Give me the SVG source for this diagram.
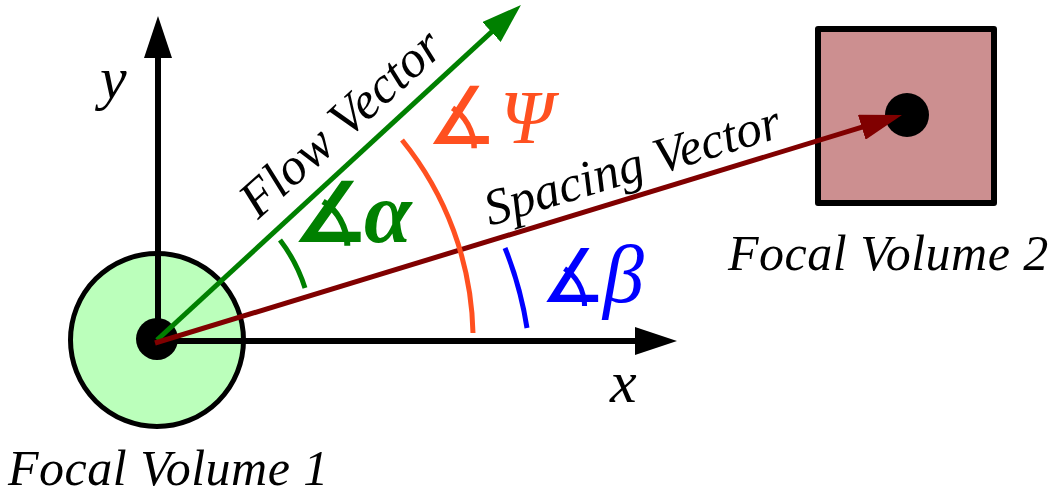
<svg xmlns="http://www.w3.org/2000/svg" width="1059" height="495" viewBox="0 0 1059 495">
<style>
.lbl{font-family:"Liberation Serif","DejaVu Serif",serif;font-style:italic;fill:#000}
.big{font-size:50px}
.axl{font-size:60px}
.ang{font-family:"DejaVu Serif","DejaVu Sans",serif;font-style:normal}
.greek{font-family:"Liberation Serif","DejaVu Serif",serif;font-style:italic}
.axis{stroke:#000;stroke-width:6;fill:none}
.flow{stroke:#008000;stroke-width:5;fill:none}
.space{stroke:#800000;stroke-width:5;fill:none}
.arc{stroke-width:5;fill:none}
</style>
<defs>
<marker id="ahK" markerUnits="userSpaceOnUse" markerWidth="42" markerHeight="28" refX="2" refY="14" orient="auto"><path d="M0,0 L42,14 L0,28 Z" fill="#000"/></marker>
<marker id="ahG" markerUnits="userSpaceOnUse" markerWidth="40" markerHeight="27" refX="2" refY="13.5" orient="auto"><path d="M0,0 L40,13.5 L0,27 Z" fill="#008000"/></marker>
<marker id="ahR" markerUnits="userSpaceOnUse" markerWidth="42" markerHeight="26" refX="2" refY="13" orient="auto"><path d="M0,0 L42,13 L0,26 Z" fill="#800000"/></marker>
</defs>
<rect width="1059" height="495" fill="#fff"/>
<g id="focal-volume-1">
<circle cx="157" cy="340" r="86.5" fill="#bbffbb" stroke="#000" stroke-width="5"/>
<circle cx="157" cy="339" r="21" fill="#000"/>
<text class="lbl big" x="8" y="485" letter-spacing="0.5">Focal Volume 1</text>
</g>
<g id="focal-volume-2">
<rect x="818" y="29" width="176" height="174" fill="#cc8f90" stroke="#000" stroke-width="6" stroke-linejoin="round"/>
<circle cx="907" cy="115" r="22" fill="#000"/>
<text class="lbl big" x="728" y="270" letter-spacing="0.5">Focal Volume 2</text>
</g>
<g id="connectors">
<line class="axis" x1="157" y1="341" x2="637" y2="341" marker-end="url(#ahK)"/>
<line class="axis" x1="158" y1="340" x2="158" y2="56" marker-end="url(#ahK)"/>
<line class="flow" x1="157" y1="340" x2="493" y2="30.7" marker-end="url(#ahG)"/>
<line class="space" x1="155" y1="343" x2="863.7" y2="126.7" marker-end="url(#ahR)"/>
<path class="arc" stroke="#008000" d="M280,240 A157,157 0 0 1 305,288"/>
<path class="arc" stroke="#ff5020" d="M402,140 A317,317 0 0 1 473,333"/>
<path class="arc" stroke="#0000ff" d="M505,248 A365,365 0 0 1 527,328"/>
</g>
<g id="labels">
<text class="lbl axl" x="100" y="98">y</text>
<text class="lbl axl" x="610" y="402">x</text>
<text class="lbl" font-size="52" transform="translate(258,220) rotate(-42)">Flow Vector</text>
<text class="lbl" font-size="51" transform="translate(490,226) rotate(-17)">Spacing Vector</text>
<text class="ang" fill="#ff5020" font-size="80" x="426" y="144">∡</text>
<text class="greek" fill="#ff5020" font-size="76" x="500" y="143">Ψ</text>
<text class="ang" fill="#008000" font-size="84" font-weight="bold" x="292" y="242">∡</text>
<text class="greek" fill="#008000" font-size="86" font-weight="bold" x="364" y="242">α</text>
<text class="ang" fill="#0000ff" font-size="74" x="540" y="302">∡</text>
<text class="greek" fill="#0000ff" font-size="82" x="603" y="302">β</text>
</g>
</svg>
